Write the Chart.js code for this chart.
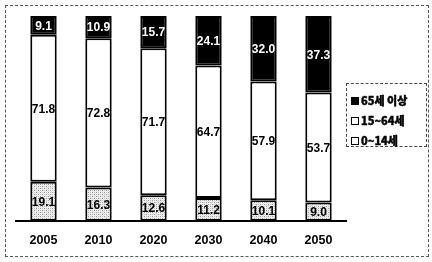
<!DOCTYPE html>
<html><head><meta charset="utf-8">
<script src="https://cdn.jsdelivr.net/npm/chart.js@4"></script>
<style>
html,body{margin:0;padding:0;background:#fff;}
#wrap{position:relative;width:432px;height:262px;}
#frame{position:absolute;left:5px;top:5px;width:424px;height:252px;border:1px dashed #555;box-sizing:border-box;}
#legend{position:absolute;left:346px;top:83px;width:81px;height:64px;border:1px dashed #444;box-sizing:border-box;font-family:"Noto Sans CJK KR","Liberation Sans",sans-serif;font-size:11px;font-weight:900;color:#000;-webkit-text-stroke:0.4px #000;}
.row{position:absolute;left:4px;height:14px;line-height:14px;white-space:nowrap;}
.mk{display:inline-block;width:8px;height:8px;border:1.5px solid #000;box-sizing:border-box;margin-right:2px;vertical-align:-0px;}
canvas{position:absolute;left:0;top:0;}
</style></head>
<body><div id="wrap"><div id="frame"></div><canvas id="c" width="432" height="262"></canvas>
<div id="legend"></div></div>
<script>
const categories = ['2005','2010','2020','2030','2040','2050'];
const seriesNames = ['0~14세','15~64세','65세 이상'];
const young = [19.1, 16.3, 12.6, 11.2, 10.1, 9.0];
const working = [71.8, 72.8, 71.7, 64.7, 57.9, 53.7];
const elderly = [9.1, 10.9, 15.7, 24.1, 32.0, 37.3];

function makePattern(){
  const p = document.createElement('canvas'); p.width=4; p.height=4;
  const g = p.getContext('2d');
  g.fillStyle='#ececec'; g.fillRect(0,0,4,4);
  g.fillStyle='#9a9a9a'; g.fillRect(0,0,1,1); g.fillRect(2,2,1,1);
  g.fillStyle='#c4c4c4'; g.fillRect(2,0,1,1); g.fillRect(0,2,1,1);
  return document.getElementById('c').getContext('2d').createPattern(p,'repeat');
}
const pat = makePattern();
const fills = [pat, '#ffffff', '#000000'];
const labelColors = ['#000','#000','#fff'];

// legend (reversed order)
const lg = document.getElementById('legend');
[2,1,0].forEach((i,k)=>{
  const r=document.createElement('div'); r.className='row'; r.style.top=(9+k*20)+'px';
  const m=document.createElement('span'); m.className='mk'; m.style.background = i===2?'#000':'#fff';
  r.appendChild(m); r.appendChild(document.createTextNode(seriesNames[i])); lg.appendChild(r);
});

const labelPlugin = {
  id:'segLabels',
  afterDatasetsDraw(chart){
    const ctx = chart.ctx;
    ctx.save();
    ctx.font = 'bold 12px "Liberation Sans", Arial, sans-serif';
    ctx.textAlign='center'; ctx.textBaseline='middle';
    chart.data.datasets.forEach((ds,di)=>{
      const meta = chart.getDatasetMeta(di);
      meta.data.forEach((bar,j)=>{
        const v = ds.data[j];
        const y = (bar.y + bar.base)/2;
        ctx.fillStyle = labelColors[di];
        ctx.fillText(v.toFixed(1), bar.x, y+1);
      });
    });
    ctx.restore();
  }
};

const datasets = [young, working, elderly].map((d,i)=>({
  label: seriesNames[i], data: d, backgroundColor: fills[i],
  borderColor:'#000', borderWidth:2, borderSkipped:false,
  barPercentage:0.48, categoryPercentage:1
}));

new Chart(document.getElementById('c'), {
  type:'bar',
  data:{labels:categories, datasets},
  options:{
    responsive:false, animation:false,
    layout:{padding:{left:16,right:86,top:16,bottom:2}},
    plugins:{legend:{display:false}, tooltip:{enabled:false}},
    scales:{
      x:{stacked:true, grid:{display:false, drawTicks:false},
         border:{display:true,color:'#000',width:2},
         ticks:{color:'#000',padding:12,font:{family:'"Liberation Sans", Arial, sans-serif',size:12.5,weight:'bold'}}},
      y:{stacked:true, display:false, min:0, max:100}
    }
  },
  plugins:[labelPlugin]
});
</script></body></html>
